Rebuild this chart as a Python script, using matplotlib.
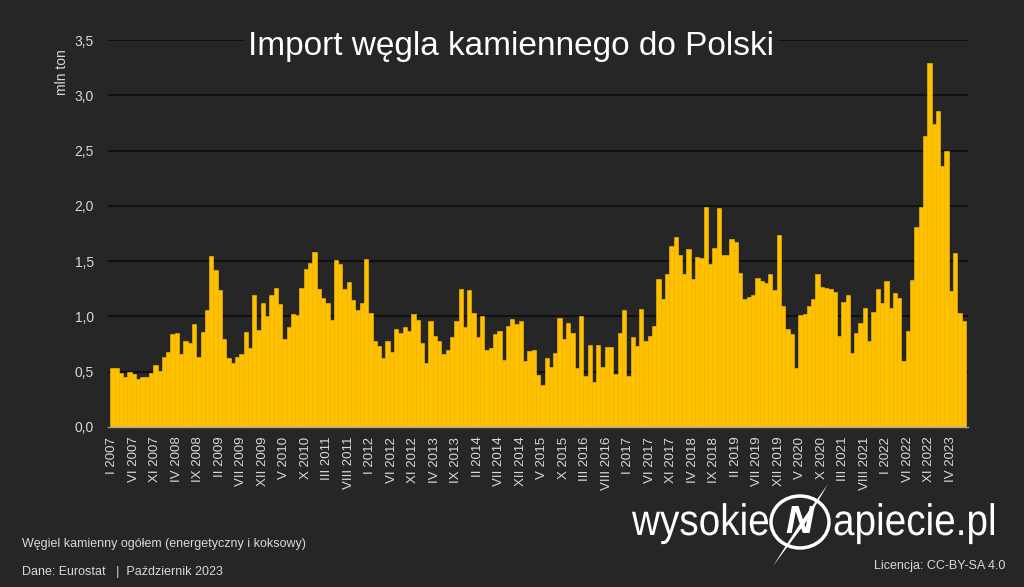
import matplotlib
matplotlib.use('Agg')
import matplotlib.pyplot as plt
from matplotlib.font_manager import FontProperties
from matplotlib.patches import Ellipse, Polygon, PathPatch
from matplotlib.textpath import TextPath
from matplotlib.transforms import Affine2D
import numpy as np

# monthly hard coal imports to Poland, mln t, I 2007 - VII 2023
values = [
    0.53, 0.53, 0.49, 0.45, 0.50, 0.48, 0.43, 0.45, 0.45, 0.49, 0.56, 0.51,   # 2007
    0.63, 0.68, 0.84, 0.85, 0.66, 0.78, 0.76, 0.93, 0.63, 0.86, 1.06, 1.55,   # 2008
    1.42, 1.24, 0.80, 0.62, 0.58, 0.63, 0.66, 0.86, 0.71, 1.19, 0.88, 1.12,   # 2009
    1.00, 1.19, 1.26, 1.11, 0.80, 0.90, 1.02, 1.01, 1.26, 1.43, 1.48, 1.58,   # 2010
    1.25, 1.17, 1.12, 0.97, 1.51, 1.47, 1.25, 1.31, 1.15, 1.06, 1.12, 1.52,   # 2011
    1.03, 0.78, 0.73, 0.62, 0.78, 0.68, 0.89, 0.85, 0.90, 0.87, 1.02, 0.97,   # 2012
    0.76, 0.58, 0.96, 0.82, 0.78, 0.66, 0.70, 0.81, 0.96, 1.25, 0.90, 1.24,   # 2013
    1.03, 0.81, 1.00, 0.70, 0.71, 0.84, 0.87, 0.61, 0.91, 0.98, 0.93, 0.96,   # 2014
    0.60, 0.69, 0.70, 0.47, 0.38, 0.62, 0.54, 0.67, 0.99, 0.80, 0.94, 0.85,   # 2015
    0.53, 1.00, 0.46, 0.74, 0.41, 0.74, 0.54, 0.72, 0.72, 0.48, 0.85, 1.06,   # 2016
    0.46, 0.81, 0.73, 1.07, 0.78, 0.82, 0.91, 1.34, 1.16, 1.38, 1.64, 1.72,   # 2017
    1.56, 1.38, 1.61, 1.34, 1.54, 1.53, 1.99, 1.47, 1.62, 1.98, 1.56, 1.56,   # 2018
    1.70, 1.67, 1.39, 1.16, 1.18, 1.19, 1.35, 1.32, 1.30, 1.38, 1.24, 1.74,   # 2019
    1.09, 0.89, 0.84, 0.53, 1.01, 1.02, 1.09, 1.16, 1.38, 1.27, 1.26, 1.25,   # 2020
    1.22, 0.82, 1.13, 1.19, 0.67, 0.85, 0.94, 1.08, 0.78, 1.04, 1.25, 1.12,   # 2021
    1.32, 1.08, 1.21, 1.17, 0.60, 0.87, 1.33, 1.81, 1.99, 2.63, 3.29, 2.74,   # 2022
    2.86, 2.36, 2.50, 1.23, 1.57, 1.03, 0.96,                                 # 2023
]
roman = ['I', 'II', 'III', 'IV', 'V', 'VI', 'VII', 'VIII', 'IX', 'X', 'XI', 'XII']
start_year = 2007
tick_step = 5
y_ticks = [0, 0.5, 1.0, 1.5, 2.0, 2.5, 3.0, 3.5]

months = [f'{roman[i % 12]} {start_year + i // 12}' for i in range(len(values))]

bg = '#262626'
gold = '#FFC000'
txt = '#d9d9d9'
base = 'Liberation Sans'

W, H = 1024, 587
fig = plt.figure(figsize=(W / 100, H / 100), dpi=100, facecolor=bg)
ax = fig.add_axes([108 / W, 1 - 427 / H, 860 / W, 387 / H])
ax.set_facecolor(bg)

x = np.arange(len(values))
ax.bar(x, values, width=1.0, color=gold, edgecolor=gold, linewidth=0.4, zorder=2)

ax.set_xlim(-1.03, len(values) - 0.03)
ax.set_ylim(0, 3.5)
ax.set_yticks(y_ticks)
ax.set_yticklabels([f'{v:.1f}'.replace('.', ',') for v in y_ticks],
                   color=txt, fontsize=10, family=base)
ax.yaxis.grid(True, color='#0a0a0a', linewidth=1.1, zorder=1)
ax.set_axisbelow(True)

ax.set_xticks(x[::tick_step])
ax.set_xticklabels(months[::tick_step], rotation=90, color=txt,
                   fontsize=9.5, family=base)
ax.tick_params(axis='both', length=0)
ax.tick_params(axis='x', pad=7)
ax.tick_params(axis='y', pad=10)

for s in ['top', 'right', 'left']:
    ax.spines[s].set_visible(False)
ax.spines['bottom'].set_color('#a6a6a6')
ax.spines['bottom'].set_linewidth(1.0)
ax.spines['bottom'].set_zorder(3)

fig.text(62 / W, 1 - 72 / H, 'mln ton', rotation=90, ha='center', va='center',
         color=txt, fontsize=10, family=base)

fig.text(511 / W, 1 - 55 / H, 'Import węgla kamiennego do Polski',
         ha='center', va='baseline', color='white', fontsize=24, family=base,
         bbox=dict(facecolor=bg, edgecolor='none', pad=3))

# footer
fig.text(22 / W, 1 - 547 / H, 'Węgiel kamienny ogółem (energetyczny i koksowy)',
         ha='left', va='baseline', color=txt, fontsize=9, family=base)
fig.text(22 / W, 1 - 575 / H, 'Dane: Eurostat   |  Październik 2023',
         ha='left', va='baseline', color=txt, fontsize=9, family=base)
fig.text(1005 / W, 1 - 569 / H, 'Licencja: CC-BY-SA 4.0',
         ha='right', va='baseline', color=txt, fontsize=9, family=base)


# logo, condensed text drawn as paths (pixel coords, y from top)
def logo_text(s, x0, baseline, em=44, sx=0.88, align='left', bold=False):
    tp = TextPath((0, 0), s, size=1, prop=FontProperties(family=base,
                  weight='bold' if bold else 'normal'))
    w = tp.get_extents().x1
    if align == 'right':
        x0 = x0 - w * em * sx
    tr = Affine2D().scale(em * sx / W, em / H).translate(x0 / W, 1 - baseline / H)
    fig.patches.append(PathPatch(tr.transform_path(tp), transform=fig.transFigure,
                                 facecolor='white', edgecolor='none'))


logo_text('wysokie', 768, 535, align='right')
logo_text('apiecie.pl', 833, 535)

fig.patches.append(Ellipse((800 / W, 1 - 522 / H), 58 / W, 52 / H,
                           transform=fig.transFigure, fill=False,
                           edgecolor='white', linewidth=2.5))
fig.patches.append(Polygon([(828 / W, 1 - 484 / H), (806 / W, 1 - 522 / H),
                            (773 / W, 1 - 566 / H), (801 / W, 1 - 522 / H)],
                           closed=True, transform=fig.transFigure,
                           facecolor='white', edgecolor='none'))
fig.text(799 / W, 1 - 523 / H, 'N', ha='center', va='center', color='white',
         fontsize=28, fontweight='bold', style='italic', family=base)

fig.savefig('out.png', dpi=100, facecolor=bg)
